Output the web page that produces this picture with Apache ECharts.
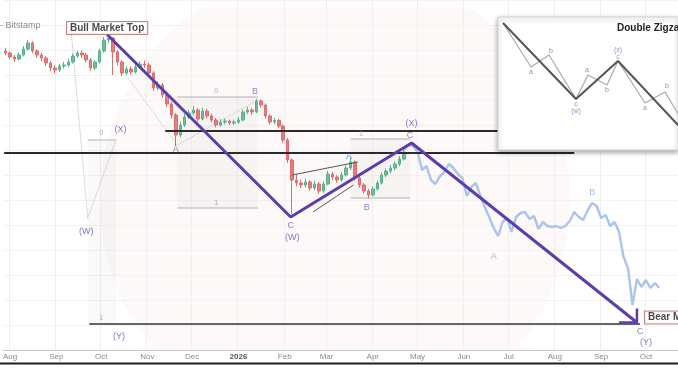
<!DOCTYPE html>
<html><head><meta charset="utf-8">
<script src="https://cdn.jsdelivr.net/npm/echarts@6/dist/echarts.min.js"></script>
<style>html,body{margin:0;padding:0;background:#fff}#c{width:678px;height:381px}</style>
</head><body><div id="c"></div>
<script>
// ---------- axis domain & tick labels ----------
const axisStart = '2025-07-28';
const axisEnd = '2026-10-22';
const tickDates = ['2025-08-01','2025-09-01','2025-10-01','2025-11-01','2025-12-01','2026-01-01','2026-02-01','2026-03-01','2026-04-01','2026-05-01','2026-06-01','2026-07-01','2026-08-01','2026-09-01','2026-10-01'];
const tickLabels = ['Aug','Sep','Oct','Nov','Dec','2026','Feb','Mar','Apr','May','Jun','Jul','Aug','Sep','Oct'];

// ---------- candles (3-day bars) ----------
const candleStart = '2025-07-29';
const candleStep = 3;
const candleOpen = [119.6,118.8,117.2,116.4,118.0,120.4,122.8,119.6,118.0,116.8,
 114.8,112.8,112.0,113.6,114.0,115.2,117.6,118.8,118.0,116.0,
 112.8,115.2,119.6,124.0,124.8,119.2,115.2,110.8,112.4,111.2,
 113.2,114.4,114.0,110.8,104.8,106.0,102.0,98.4,94.0,86.0,
 90.0,93.2,94.8,96.0,92.4,95.6,93.6,92.0,90.0,91.2,
 91.6,90.8,91.2,92.0,95.2,96.0,95.2,99.6,98.0,93.6,
 91.2,91.8,89.6,84.0,76.0,68.0,66.8,66.0,67.2,64.8,
 66.4,63.6,66.4,70.4,69.2,68.0,70.0,72.8,75.2,68.8,
 66.0,63.6,62.0,64.4,66.8,70.0,71.6,72.8,74.4,76.4];
const candleClose = [118.8,117.2,116.4,118.0,120.4,122.8,119.6,118.0,116.8,114.8,
 112.8,112.0,113.6,114.0,115.2,117.6,118.8,118.0,116.0,112.8,
 115.2,119.6,124.0,124.8,119.2,115.2,110.8,112.4,111.2,113.2,
 114.4,114.0,110.8,104.8,106.0,102.0,98.4,94.0,86.0,90.0,
 93.2,94.8,96.0,92.4,95.6,93.6,92.0,90.0,91.2,91.6,
 90.8,91.2,92.0,95.2,96.0,95.2,99.6,98.0,93.6,91.2,
 91.8,89.6,84.0,76.0,68.0,66.8,66.0,67.2,64.8,66.4,
 63.6,66.4,70.4,69.2,68.0,70.0,72.8,75.2,68.8,66.0,
 63.6,62.0,64.4,66.8,70.0,71.6,72.8,74.4,76.4,79.2];
const candleHigh = [120.8,119.5,118.0,119.0,121.6,124.0,123.5,120.4,118.9,117.5,
 115.6,113.9,114.5,115.3,116.4,118.6,119.7,119.9,118.8,116.7,
 116.0,120.5,125.2,126.0,125.1,120.0,116.0,113.6,113.5,114.6,
 115.5,115.8,114.9,111.5,107.6,106.8,103.0,99.2,94.8,91.4,
 94.4,96.0,97.6,96.8,96.9,96.4,94.5,92.8,92.3,92.6,
 92.2,92.2,93.2,96.1,97.2,96.9,100.4,100.2,98.6,94.3,
 92.9,92.4,90.2,84.8,76.6,70.4,68.2,68.6,68.0,67.8,
 67.2,67.6,71.6,71.4,70.0,71.2,73.9,76.8,75.8,69.6,
 66.8,64.4,65.4,67.8,71.0,72.6,74.0,75.4,77.6,80.4];
const candleLow = [117.9,116.3,115.2,115.8,117.4,119.8,118.7,116.9,115.6,113.6,
 111.5,110.6,111.2,112.6,113.1,114.6,116.9,116.8,114.9,111.6,
 112.0,114.6,119.0,122.9,110.0,113.9,109.6,109.9,110.1,110.5,
 112.4,112.8,109.8,103.6,103.9,100.8,97.2,92.6,81.6,85.0,
 89.2,92.4,93.9,91.4,91.8,92.6,91.0,89.0,89.3,90.2,
 89.9,90.0,90.4,91.5,94.4,94.0,94.8,97.0,92.6,90.2,
 90.3,88.6,83.0,74.8,54.4,65.5,64.8,65.0,63.6,63.9,
 62.4,62.8,65.8,68.0,66.9,67.3,69.4,72.0,67.8,64.9,
 62.6,60.8,61.5,63.8,66.2,69.1,70.7,71.9,73.5,75.8];

// ---------- projected path (light blue) ----------
const projStart = '2026-04-22';
const projStep = 3;
const projValues = [80,82,81.6,79.2,72,73.6,68,66.4,69.6,71.2,
 74.4,72.8,70.4,68.8,61.6,65.2,66.8,62,57.2,53.2,
 48.8,45.6,51.2,52.8,47.2,53.2,54.8,55.2,52.4,53.6,
 48.4,51.2,49.6,49.2,49.6,48.8,49.6,51.6,55.2,53.2,
 52,56,58.8,57.6,52.8,54,49.6,51.2,47.2,37.2,
 32.8,18,28.4,25.2,28,24.8,26.8,24.8];

// ---------- wave structure ----------
const waveDates = ['2025-10-05','2026-02-05','2026-04-27','2026-09-25'];
const waveValues = [126.2, 53.2, 82.8, 11];
const arrowDates = ['2026-09-13','2026-09-25','2026-09-25'];
const arrowValues = [11, 11, 16.6];

// levels: [from, to, value]
const blackLevels = [['2025-11-13','2026-06-26',87.6],['2025-07-28','2026-08-14',78.8]];
const baseLevels = [['2025-09-23','2026-09-27',10.4]];
const greyLevels = [['2025-09-22','2025-10-11',84],['2025-11-21','2026-01-14',101.2],['2025-11-21','2026-01-14',56.8],['2026-03-17','2026-04-26',84.4],['2026-03-17','2026-04-26',60.8]];
const dottedPaths = [
  [['2025-09-11',126.8],['2025-09-22',52.8],['2025-10-11',84]],
  [['2025-10-19',108.8],['2025-11-21',82],['2026-01-14',100]]
];
const wedgeLines = [
  [['2026-02-06',70],['2026-03-22',75.2]],
  [['2026-02-20',55.2],['2026-03-19',66]]
];
const fibBoxes = [['2025-09-22','2025-10-11',10.4,84],['2025-11-21','2026-01-14',56.8,101.2],['2026-03-17','2026-04-26',60.8,84.4]];

// labels: [text, date, value]
const blueLetters = [['A','2025-11-20',80],['B','2026-01-12',103.2],['C','2026-02-05',49.6],['A','2026-03-16',77.2],['B','2026-03-28',56.8],['C','2026-04-26',85.6],['C','2026-09-27',7.2]];
const purpleLabels = [['(X)','2025-10-14',88],['(W)','2025-09-21',47.2],['(Y)','2025-10-13',5.2],['(W)','2026-02-06',44.8],['(X)','2026-04-27',90.4],['(Y)','2026-10-01',2.8]];
const greyDigits = [['0','2025-10-01',86.8],['1','2025-10-01',12.8],['0','2025-12-17',103.6],['1','2025-12-17',58.8],['1','2026-03-24',86.4]];
const projLetters = [['A','2026-06-21',37.2],['B','2026-08-26',62.8]];
const boxLabels = [['Bull Market Top','2025-10-05',128.8]];
const bearLabels = [['Bear Market Bottom','2026-09-30',13]];

// ---------- inset: double zigzag schematic ----------
const insetMajor = [[5,127],[78,51],[120,89],[195,9]];
const insetMinor = [[5,127],[33,83],[51,95],[78,51],[90,75],[109,65],[120,89],[147,47],[167,58],[202,0]];
const insetLetters = [['a',33,78],['b',53,99],['c',78,46],['a',89,80],['b',109,60],['c',120,93],['a',147,42],['b',169,64]];
const insetDegree = [['(w)',78,39],['(x)',120,100]];

// ---------- build ----------
function addDays(s, n){ const d = new Date(s + 'T00:00:00Z'); d.setUTCDate(d.getUTCDate() + n); return d.toISOString().slice(0,10); }
const days = [];
for (let i = 0; ; i++) { const s = addDays(axisStart, i); days.push(s); if (s === axisEnd) break; }
const candleData = days.map(() => ['-','-','-','-']);
candleOpen.forEach((o, k) => {
  const idx = days.indexOf(addDays(candleStart, k * candleStep));
  candleData[idx] = [o, candleClose[k], candleLow[k], candleHigh[k]];
});
const projData = projValues.map((v, k) => [addDays(projStart, k * projStep), v]);
const FONT = 'Liberation Sans, Arial, sans-serif';

function seg(points, color, width, type, z) {
  return { type: 'line', data: points, symbol: 'none', silent: true, z: z || 3, clip: false,
    lineStyle: { color: color, width: width, type: type || 'solid' }, animation: false };
}
function labels(arr, color, size, weight, extra) {
  return Object.assign({ type: 'scatter', symbolSize: 1, silent: true, z: 6, animation: false,
    itemStyle: { color: 'transparent' },
    data: arr.map(a => ({ name: a[0], value: [a[1], a[2]] })),
    label: { show: true, position: 'inside', formatter: '{b}', color: color, fontSize: size, fontWeight: weight, fontFamily: FONT }
  }, extra || {});
}

// faint watermark disc, clipped to the plot band
const wm = [];
for (let a = 0; a < 360; a += 3) {
  const t = a * Math.PI / 180;
  wm.push([335 + 235 * Math.cos(t), Math.min(349, Math.max(8, 200 + 235 * Math.sin(t)))]);
}

const series = [];
series.push({
  type: 'candlestick', data: candleData, barWidth: 3, z: 3, animation: false, silent: true,
  itemStyle: { color: '#6dbf9c', color0: '#e67c7c', borderColor: '#5bb08c', borderColor0: '#de6d6d', borderWidth: 1 },
  markArea: { silent: true, itemStyle: { color: 'rgba(120,120,120,0.045)' },
    data: fibBoxes.map(b => [{ xAxis: b[0], yAxis: b[2] }, { xAxis: b[1], yAxis: b[3] }]) }
});
series.push(seg(projData, 'rgba(160,190,236,0.9)', 2.4, 'solid', 3));
greyLevels.forEach(l => series.push(seg([[l[0], l[2]], [l[1], l[2]]], '#b0b0b0', 1, 'solid', 3)));
dottedPaths.forEach(p => series.push(seg(p, '#bdbdbd', 1, 'dotted', 3)));
wedgeLines.forEach(p => series.push(seg(p, '#555', 1, 'solid', 4)));
blackLevels.forEach(l => series.push(seg([[l[0], l[2]], [l[1], l[2]]], '#2a2a2a', 2, 'solid', 4)));
baseLevels.forEach(l => series.push(seg([[l[0], l[2]], [l[1], l[2]]], '#666', 2, 'solid', 4)));
series.push(seg(waveDates.map((d, i) => [d, waveValues[i]]), '#5b3db0', 3, 'solid', 5));
series.push(seg(arrowDates.map((d, i) => [d, arrowValues[i]]), '#5b3db0', 2.5, 'solid', 5));
series.push(labels(blueLetters, '#5a6fcf', 9, 'normal'));
series.push(labels(purpleLabels, '#6a4fb3', 9, 'normal'));
series.push(labels(greyDigits, '#9a9a9a', 7, 'normal'));
series.push(labels(projLetters, '#8ea8e4', 9, 'normal'));
series.push(labels(boxLabels, '#1a1a1a', 10, 'bold', { label: { show: true, position: 'inside', formatter: '{b}', color: '#1a1a1a', fontSize: 10, lineHeight: 10, fontWeight: 'bold', fontFamily: FONT, backgroundColor: '#fff', borderColor: '#b26a6a', borderWidth: 1, padding: [1, 3] } }));
series.push(labels(bearLabels, '#1a1a1a', 10, 'bold', { label: { show: true, position: 'right', distance: 0, formatter: '{b}', color: '#1a1a1a', fontSize: 10, lineHeight: 10, fontWeight: 'bold', fontFamily: FONT, backgroundColor: '#fff', borderColor: '#b26a6a', borderWidth: 1, padding: [1, 3] } }));

// inset series
series.push({ type: 'line', xAxisIndex: 1, yAxisIndex: 1, data: insetMinor, symbol: 'none', silent: true, z: 11, animation: false, lineStyle: { color: '#aaa', width: 1.2 } });
series.push({ type: 'line', xAxisIndex: 1, yAxisIndex: 1, data: insetMajor, symbol: 'none', silent: true, z: 11, animation: false, lineStyle: { color: '#555', width: 2 } });
series.push({ type: 'scatter', xAxisIndex: 1, yAxisIndex: 1, symbolSize: 1, silent: true, z: 12, animation: false, itemStyle: { color: 'transparent' },
  data: insetLetters.map(a => ({ name: a[0], value: [a[1], a[2]] })),
  label: { show: true, position: 'inside', formatter: '{b}', color: '#777', fontSize: 7, fontFamily: FONT } });
series.push({ type: 'scatter', xAxisIndex: 1, yAxisIndex: 1, symbolSize: 1, silent: true, z: 12, animation: false, itemStyle: { color: 'transparent' },
  data: insetDegree.map(a => ({ name: a[0], value: [a[1], a[2]] })),
  label: { show: true, position: 'inside', formatter: '{b}', color: '#7b6fc8', fontSize: 7, fontFamily: FONT } });

const isTick = (i, v) => tickDates.indexOf(v) >= 0;
const chart = echarts.init(document.getElementById('c'), null, { renderer: 'canvas' });
chart.setOption({
  animation: false,
  backgroundColor: '#fff',
  title: [
    { text: '- Bitstamp', left: 0, top: 21, padding: 0, textStyle: { fontSize: 9, color: '#8a8a8a', fontWeight: 'normal', fontFamily: FONT } },
    { text: 'Double Zigzag', left: 617, top: 23, padding: 0, z: 13, textStyle: { fontSize: 10, color: '#222', fontWeight: 'bold', fontFamily: FONT } }
  ],
  graphic: { elements: [
    { type: 'polygon', shape: { points: wm }, style: { fill: 'rgba(232,180,180,0.085)' }, silent: true, z: 0 },
    { type: 'line', shape: { x1: 0, y1: 363.5, x2: 678, y2: 363.5 }, style: { stroke: '#1e1e1e', lineWidth: 2 }, silent: true, z: 100 }
  ] },
  grid: [
    { left: 0, right: 0, top: 0, bottom: 31 },
    { left: 498, top: 17, width: 180, height: 133, show: true, z: 10, backgroundColor: '#fff', borderColor: '#d5d5d5', borderWidth: 1, shadowBlur: 5, shadowColor: 'rgba(0,0,0,0.35)', shadowOffsetY: 2 }
  ],
  xAxis: [
    { type: 'category', data: days, boundaryGap: true, gridIndex: 0,
      axisLine: { lineStyle: { color: '#c8c8c8', width: 1 } },
      axisTick: { show: false },
      axisLabel: { interval: isTick, margin: 3, fontSize: 8, color: '#8a8a8a', fontFamily: FONT,
        formatter: v => { const l = tickLabels[tickDates.indexOf(v)]; return l === '2026' ? '{b|2026}' : l; },
        rich: { b: { fontSize: 8, fontWeight: 'bold', color: '#555', fontFamily: FONT } } },
      splitLine: { show: true, interval: isTick, lineStyle: { color: '#f0eeee', width: 1 } } },
    { type: 'value', gridIndex: 1, min: 0, max: 180, show: false }
  ],
  yAxis: [
    { type: 'value', min: 0, max: 140, interval: 10, gridIndex: 0,
      axisLine: { show: false }, axisTick: { show: false }, axisLabel: { show: false },
      splitLine: { show: true, lineStyle: { color: '#f3f1f1', width: 1 } } },
    { type: 'value', gridIndex: 1, min: 0, max: 133, show: false }
  ],
  series: series
});
</script></body></html>
